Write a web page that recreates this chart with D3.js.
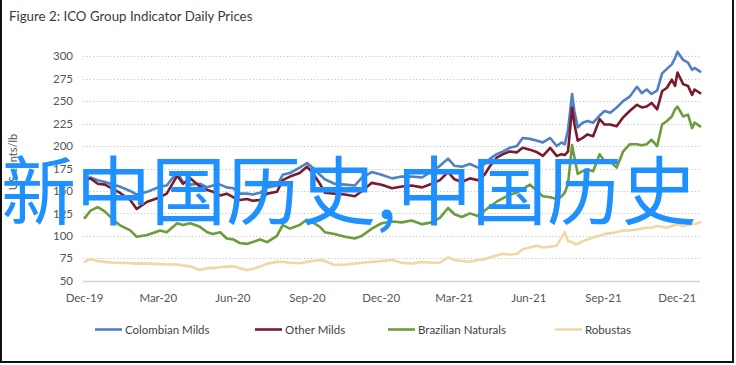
<!DOCTYPE html>
<html><head><meta charset="utf-8">
<script src="https://cdn.jsdelivr.net/npm/d3@7"></script>
<style>
html,body{margin:0;padding:0;background:#fff;}
svg{display:block;}
</style></head>
<body>
<svg id="chart" width="736" height="365"></svg>
<script>
const chartTitle = "Figure 2: ICO Group Indicator Daily Prices";
const yAxisTitle = "US cents/lb";
const overlayText = "新中国历史,中国历史";
const seriesNames = ["Colombian Milds", "Other Milds", "Brazilian Naturals", "Robustas"];
const seriesColors = ["#4f81c4", "#7b1a2c", "#6c9c3b", "#efd8a4"];
const xTickLabels = ["Dec-19","Mar-20","Jun-20","Sep-20","Dec-20","Mar-21","Jun-21","Sep-21","Dec-21"];
const yTickValues = [50,75,100,125,150,175,200,225,250,275,300];

const dates = ["2019-12-02","2019-12-09","2019-12-18","2019-12-27","2020-01-06","2020-01-14","2020-01-27","2020-02-04","2020-02-17","2020-03-04",
"2020-03-12","2020-03-25","2020-04-01","2020-04-10","2020-04-22","2020-05-01","2020-05-08","2020-05-17","2020-05-25","2020-06-02",
"2020-06-10","2020-06-19","2020-06-26","2020-07-05","2020-07-14","2020-07-26","2020-08-02","2020-08-11","2020-08-23","2020-09-01",
"2020-09-08","2020-09-17","2020-09-23","2020-10-05","2020-10-18","2020-10-30","2020-11-08","2020-11-20","2020-12-02","2020-12-15",
"2020-12-27","2021-01-08","2021-01-21","2021-02-02","2021-02-12","2021-02-22","2021-03-02","2021-03-11","2021-03-21","2021-03-31",
"2021-04-08","2021-04-15","2021-04-23","2021-05-01","2021-05-09","2021-05-18","2021-05-25","2021-06-03","2021-06-12","2021-06-19",
"2021-06-28","2021-07-06","2021-07-12","2021-07-16","2021-07-20","2021-07-25","2021-07-28","2021-08-01","2021-08-07","2021-08-13",
"2021-08-20","2021-08-28","2021-09-03","2021-09-10","2021-09-18","2021-09-26","2021-10-04","2021-10-13","2021-10-19","2021-10-25",
"2021-10-31","2021-11-07","2021-11-13","2021-11-19","2021-11-25","2021-11-29","2021-12-02","2021-12-09","2021-12-15","2021-12-20",
"2021-12-23","2021-12-30"];

const colombianMilds = [163,165,162,160,157,155,150,146,149,155,
156,171,160,157,158,154,156,157,154,153,
147,147,146,148,154,156,168,170,176,181,
176,168,163,158,157,156,165,171,168,164,
166,166,165,172,178,186,178,177,180,176,
180,186,191,194,198,200,209,208,206,204,
209,200,204,202,218,258,238,221,226,228,
226,234,239,237,243,250,255,266,259,263,
258,262,281,286,291,298,305,296,293,285,
287,283];

const otherMilds = [162,164,158,157,152,148,140,130,138,143,
147,167,158,164,155,151,149,145,147,143,
140,141,139,140,147,149,162,166,170,177,
170,158,148,147,146,144,150,159,157,153,
155,156,154,158,162,171,163,160,164,162,
168,178,187,191,194,193,198,196,193,189,
198,189,191,190,194,243,224,206,209,213,
211,230,224,224,222,232,239,246,243,244,
248,241,261,265,274,267,282,269,267,257,
263,259];

const brazilianNaturals = [120,128,132,127,118,112,106,99,101,106,
104,114,112,114,110,104,102,104,97,96,
92,91,93,96,93,100,112,108,112,118,
115,110,104,102,99,97,100,108,114,116,
115,117,113,115,120,131,124,121,125,122,
128,133,138,142,146,148,152,157,150,144,
143,141,144,148,158,201,187,169,172,174,
172,191,183,183,176,194,202,202,201,202,
207,200,224,228,233,241,244,233,235,220,
226,222];

const robustas = [71,74,72,71,70,70,69.5,69,69,68.5,
68,68,67,66,62,64,64,65,65.7,66,
64,62,63,65.7,69,71,71,70,69.5,71,
72,73,72,67.5,68,69,70,71,72,73,
70,69,71,70,70,76,73,72,71,73,
74,76,78,80,79,80,85,87,89,87,
88,89,98,104,94,93,91,91,94,96,
98,100,102,103,104,106,106,107,108,109,
109,111,110,109,111,112,113,111,112,113,
113,115];

const seriesValues = [colombianMilds, otherMilds, brazilianNaturals, robustas];

const svg = d3.select("#chart");
const parseDate = d3.timeParse("%Y-%m-%d");
const parseTick = d3.timeParse("%b-%y");
const dateObjs = dates.map(parseDate);

const x = d3.scaleTime()
  .domain([parseDate("2019-12-01"), parseDate("2021-12-31")])
  .range([84, 701]);
const y = d3.scaleLinear().domain([50, 300]).range([280.7, 56.3]);

const font = "Lato, 'Noto Sans', sans-serif";

// frame
svg.append("line").attr("x1",1).attr("x2",1).attr("y1",0).attr("y2",363).attr("stroke","#111").attr("stroke-width",2);
svg.append("line").attr("x1",733).attr("x2",733).attr("y1",0).attr("y2",363).attr("stroke","#111").attr("stroke-width",2);
svg.append("line").attr("x1",0).attr("x2",734).attr("y1",362).attr("y2",362).attr("stroke","#111").attr("stroke-width",2);

// title
svg.append("text").attr("x",9).attr("y",21).text(chartTitle)
  .attr("font-family",font).attr("font-size",13.3).attr("fill","#3a3a3a");

// y grid + axis
const yAxis = d3.axisLeft(y).tickValues(yTickValues).tickSize(0).tickPadding(0).tickFormat(d3.format("d"));
const yg = svg.append("g").attr("transform","translate(73,0)").call(yAxis);
yg.select(".domain").remove();
yg.selectAll("text").attr("font-family",font).attr("font-size",11.5).attr("fill","#555").attr("dx",0);

const grid = svg.append("g");
grid.selectAll("line").data(yTickValues.filter(v => v > 50)).join("line")
  .attr("x1",83).attr("x2",700).attr("y1",d=>Math.round(y(d))+0.5).attr("y2",d=>Math.round(y(d))+0.5)
  .attr("stroke","#c4c4c4").attr("stroke-width",1).attr("stroke-dasharray","1.2,2.2");
svg.append("line").attr("x1",83).attr("x2",700).attr("y1",Math.round(y(50))+0.5).attr("y2",Math.round(y(50))+0.5)
  .attr("stroke","#d4d4d4").attr("stroke-width",1.5);

// x axis labels
const xAxis = d3.axisBottom(x).tickValues(xTickLabels.map(parseTick)).tickSize(0).tickPadding(0)
  .tickFormat(d3.timeFormat("%b-%y"));
const xg = svg.append("g").attr("transform","translate(0,294)").call(xAxis);
xg.select(".domain").remove();
xg.selectAll("text").attr("font-family",font).attr("font-size",11.5).attr("fill","#555").attr("dy","0.71em");

// y axis title
svg.append("text").attr("transform","translate(17,162) rotate(-90)").attr("text-anchor","middle")
  .text(yAxisTitle).attr("font-family",font).attr("font-size",11).attr("fill","#555");

// series lines
const line = d3.line().x((d,i)=>x(dateObjs[i])).y(d=>y(d));
seriesValues.forEach((vals,k)=>{
  svg.append("path").datum(vals).attr("d",line).attr("fill","none")
    .attr("stroke",seriesColors[k]).attr("stroke-width",2.6).attr("stroke-linejoin","round").attr("stroke-linecap","round");
});

// legend
const legendX = [95, 255, 388, 555];
const lg = svg.append("g");
seriesNames.forEach((n,k)=>{
  lg.append("line").attr("x1",legendX[k]).attr("x2",legendX[k]+27).attr("y1",329.5).attr("y2",329.5)
    .attr("stroke",seriesColors[k]).attr("stroke-width",2.6);
  lg.append("text").attr("x",legendX[k]+30).attr("y",333.5).text(n)
    .attr("font-family",font).attr("font-size",11.5).attr("fill","#444");
});

// overlay text
svg.append("text").attr("x",1).attr("y",219).text(overlayText)
  .attr("font-family","'Noto Sans CJK SC', sans-serif").attr("font-size",75).attr("fill","#1e90ff");
</script>
</body></html>
